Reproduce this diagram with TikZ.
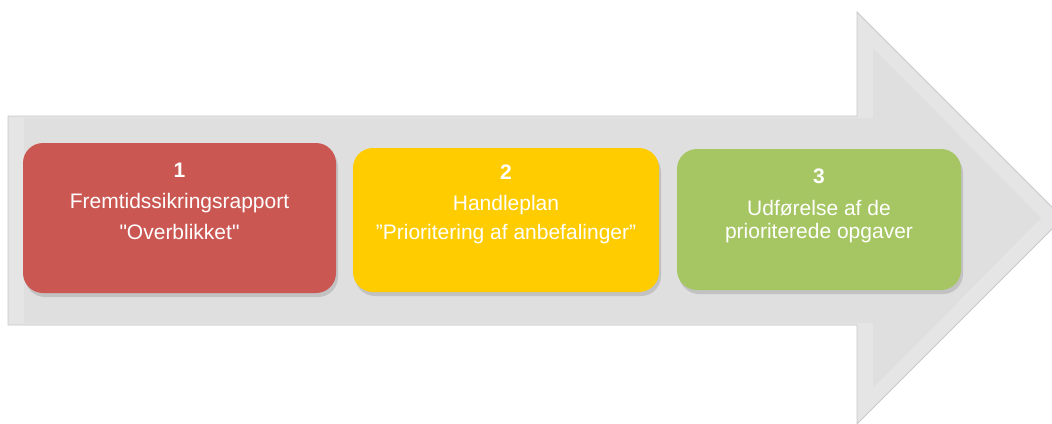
\documentclass[tikz,border=0pt]{standalone}
\usepackage{fontspec}
\setmainfont{Liberation Sans}[Ligatures=TeXOff]
\usetikzlibrary{positioning,shadows}

\definecolor{arrowgray}{RGB}{223,223,223}
\definecolor{arrowbevel}{RGB}{229,229,229}
\definecolor{arrowedge}{RGB}{200,200,200}
\definecolor{phasered}{RGB}{202,87,82}
\definecolor{phaseyellow}{RGB}{255,204,0}
\definecolor{phasegreen}{RGB}{166,198,99}

\begin{document}
\begin{tikzpicture}[x=1pt, y=-1pt,
    phase/.style={rounded corners=20pt, inner sep=0pt,
        drop shadow={shadow xshift=2pt, shadow yshift=-4pt, opacity=0.3}},
    phasetext/.style={inner sep=0pt, align=center, text=white,
        font=\fontsize{21}{23}\selectfont}]
    \useasboundingbox (0,0) rectangle (1052,423);
    \clip (0,0) rectangle (1052,423);

    % Big grey arrow with a soft bevel
    \fill[arrowbevel, draw=arrowedge, line width=0.8pt]
        (8,116) -- (857,116) -- (857,12) -- (1063,218) -- (857,424)
        -- (857,325) -- (8,325) -- cycle;
    \fill[arrowgray]
        (24,118) -- (873,118) -- (873,48) -- (1041,218) -- (873,388)
        -- (873,323) -- (24,323) -- cycle;

    % The three phases
    \node[phase, fill=phasered, minimum width=313pt, minimum height=150pt]
        (red) at (179.5,218) {};
    \node[phase, fill=phaseyellow, minimum width=306pt, minimum height=144pt]
        (yellow) at (506,220) {};
    \node[phase, fill=phasegreen, minimum width=284pt, minimum height=141pt]
        (green) at (819,219.5) {};

    \node[phasetext, below=20pt of red.north] (redtext)
        {\textbf{1}\\[8pt]Fremtidssikringsrapport\\[8pt]"Overblikket"};
    \node[phasetext, below=17pt of yellow.north] (yellowtext)
        {\textbf{2}\\[8pt]Handleplan\\[6pt]”Prioritering af anbefalinger”};
    \node[phasetext, below=20pt of green.north] (greentext)
        {\textbf{3}\\[9pt]Udførelse af de\\prioriterede opgaver};
\end{tikzpicture}
\end{document}
